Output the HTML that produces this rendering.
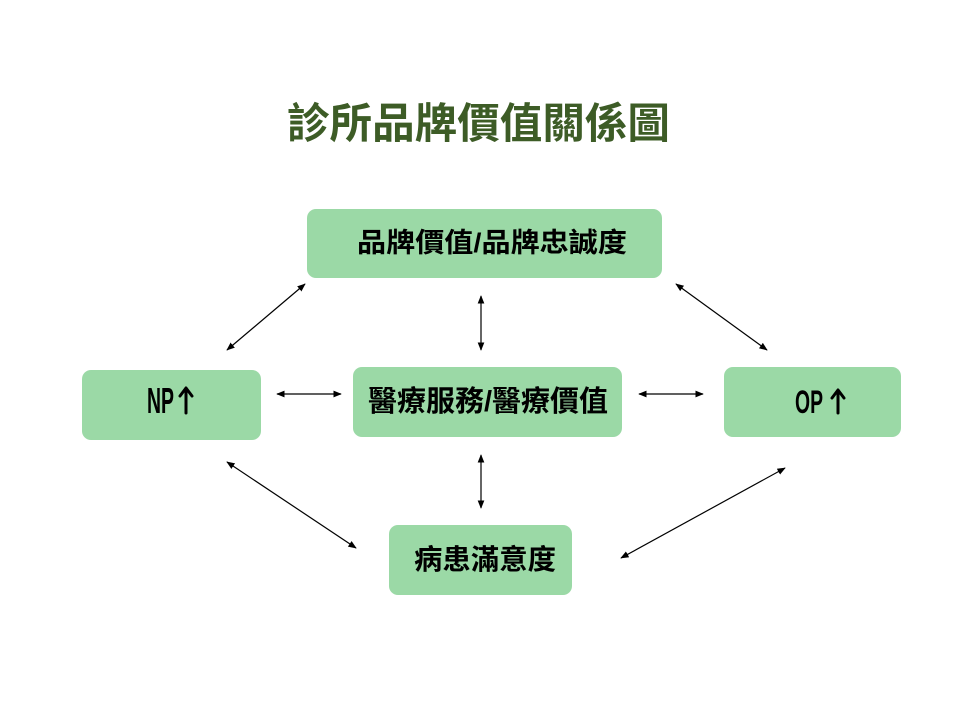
<!DOCTYPE html>
<html><head><meta charset="utf-8"><style>
html,body{margin:0;padding:0;background:#fff;}
svg{display:block;}
text{font-family:"Liberation Sans","Noto Sans CJK TC",sans-serif;font-weight:bold;}
</style></head><body>
<svg width="960" height="720" viewBox="0 0 960 720" xmlns="http://www.w3.org/2000/svg">
<defs>
<marker id="a" viewBox="0 0 10 10" refX="9" refY="5" markerWidth="7" markerHeight="7" orient="auto-start-reverse">
<path d="M0,1 L10,5 L0,9 z" fill="#000"/>
</marker>
</defs>
<text x="287" y="138" textLength="383" lengthAdjust="spacingAndGlyphs" font-size="42" fill="#3d5c26">診所品牌價值關係圖</text>
<g fill="#9bd9a6">
<rect x="307" y="209" width="355" height="69" rx="9"/>
<rect x="82" y="370" width="179" height="70" rx="9"/>
<rect x="353" y="367" width="269" height="70" rx="9"/>
<rect x="724" y="367" width="177" height="70" rx="9"/>
<rect x="389" y="525" width="183" height="70" rx="9"/>
</g>
<g fill="#000">
<text x="357" y="252" textLength="270" lengthAdjust="spacingAndGlyphs" font-size="27">品牌價值/品牌忠誠度</text>
<text x="368" y="411" textLength="240" lengthAdjust="spacingAndGlyphs" font-size="29">醫療服務/醫療價值</text>
<text x="414" y="569" textLength="142" lengthAdjust="spacingAndGlyphs" font-size="28">病患滿意度</text>
<text x="147" y="413" textLength="27" lengthAdjust="spacingAndGlyphs" font-size="36">NP</text>
<text x="795" y="413" textLength="28" lengthAdjust="spacingAndGlyphs" font-size="32">OP</text>
</g>
<g stroke="#000" stroke-width="3" fill="none" stroke-linecap="round" stroke-linejoin="round">
<path d="M186,413 V389 M180,396 L186,388 L192,396"/>
<path d="M838,413 V391 M832,398 L838,390 L844,398"/>
</g>
<g stroke="#000" stroke-width="1.2" marker-start="url(#a)" marker-end="url(#a)">
<line x1="305" y1="284" x2="227" y2="350"/>
<line x1="481" y1="296" x2="481" y2="350"/>
<line x1="676" y1="284" x2="767" y2="350"/>
<line x1="277" y1="394" x2="341" y2="394"/>
<line x1="639" y1="394" x2="703" y2="394"/>
<line x1="481" y1="455" x2="481" y2="508"/>
<line x1="227" y1="462" x2="356" y2="548"/>
<line x1="621" y1="558" x2="785" y2="468"/>
</g>
</svg>
</body></html>
